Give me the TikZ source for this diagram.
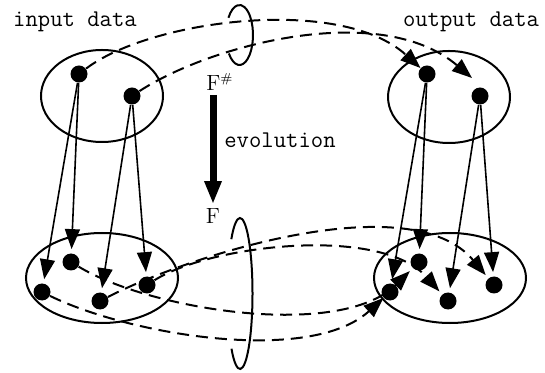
\documentclass[tikz,border=0pt]{standalone}
\usetikzlibrary{shapes.geometric, arrows.meta}

\begin{document}
\begin{tikzpicture}[
    x=0.5pt, y=-0.5pt,
    set/.style={ellipse, draw=black, line width=1pt, inner sep=0pt},
    dot/.style={circle, fill=black, inner sep=0pt, minimum size=8.5pt},
    map/.style={-{Triangle[length=10pt, width=7.5pt]}, line width=0.8pt, shorten >=2pt},
    orbit/.style={-{Triangle[length=10pt, width=7.5pt]}, line width=1pt, dash pattern=on 6pt off 3.5pt},
    evo/.style={-{Triangle[length=11.5pt, width=8pt]}, line width=3.5pt},
    ring/.style={line width=1pt},
    lbl/.style={font=\ttfamily\fontsize{12}{14}\selectfont}
]
    \useasboundingbox (0,0) rectangle (545,373);

    % Sets
    \node[set, minimum width=61pt, minimum height=46pt] (topL) at (102,96) {};
    \node[set, minimum width=61pt, minimum height=46pt] (topR) at (449,97) {};
    \node[set, minimum width=76pt, minimum height=45pt] (botL) at (102,278) {};
    \node[set, minimum width=76pt, minimum height=45pt] (botR) at (450,278) {};

    % Points
    \node[dot] (a1) at (79,74) {};
    \node[dot] (a2) at (132,96) {};
    \node[dot] (c1) at (427,74) {};
    \node[dot] (c2) at (480,96) {};
    \node[dot] (b1) at (42,292) {};
    \node[dot] (b2) at (71,262) {};
    \node[dot] (b3) at (100,301) {};
    \node[dot] (b4) at (147,285) {};
    \node[dot] (d1) at (390,292) {};
    \node[dot] (d2) at (419,262) {};
    \node[dot] (d3) at (448,301) {};
    \node[dot] (d4) at (494,285) {};
    \coordinate (c2tip) at (472,78);

    % Labels
    \node[lbl] (inlbl) at (75,22) {input data};
    \node[lbl] (outlbl) at (471,22) {output data};
    \node[lbl] (evolbl) at (280,140) {evolution};
    \node[inner sep=2pt, font=\fontsize{11}{13}\selectfont] (fs) at (220,82) {F\textsuperscript{\fontsize{6.5}{7}\selectfont\#}};
    \node[inner sep=2pt, font=\fontsize{11}{13}\selectfont] (fb) at (213,216) {F};

    % Evolution
    \draw[evo] (fs.south -| fb.north) -- (fb.north);

    % Maps
    \draw[map] (a1) -- (b1);
    \draw[map] (a1) -- (b2);
    \draw[map] (a2) -- (b3);
    \draw[map] (a2) -- (b4);
    \draw[map] (c1) -- (d1);
    \draw[map] (c1) -- (d2);
    \draw[map] (c2) -- (d3);
    \draw[map] (c2) -- (d4);

    % Orbits
    \draw[orbit] (a1) .. controls (150,20) and (340,-5) .. (c1);
    \draw[orbit] (a2) .. controls (210,45) and (380,0) .. (c2tip);
    \draw[orbit] (b1) .. controls (130,335) and (310,365) .. (d1);
    \draw[orbit, shorten >=2pt] (b2) .. controls (150,310) and (340,340) .. (d2);
    \draw[orbit, shorten >=2pt] (b4) .. controls (210,245) and (380,225) .. (d3);
    \draw[orbit, shorten >=2pt] (b3) .. controls (190,255) and (410,185) .. (d4);

    % Rings
    \coordinate (r1) at (239.5,35);
    \coordinate (r2) at (240,293.5);
    \draw[ring] (r1) ++(218:6.75pt and 15pt) arc[start angle=218, end angle=505, x radius=6.75pt, y radius=15pt];
    \draw[ring] (r2) ++(227:6.25pt and 37.75pt) arc[start angle=227, end angle=494, x radius=6.25pt, y radius=37.75pt];
\end{tikzpicture}
\end{document}
